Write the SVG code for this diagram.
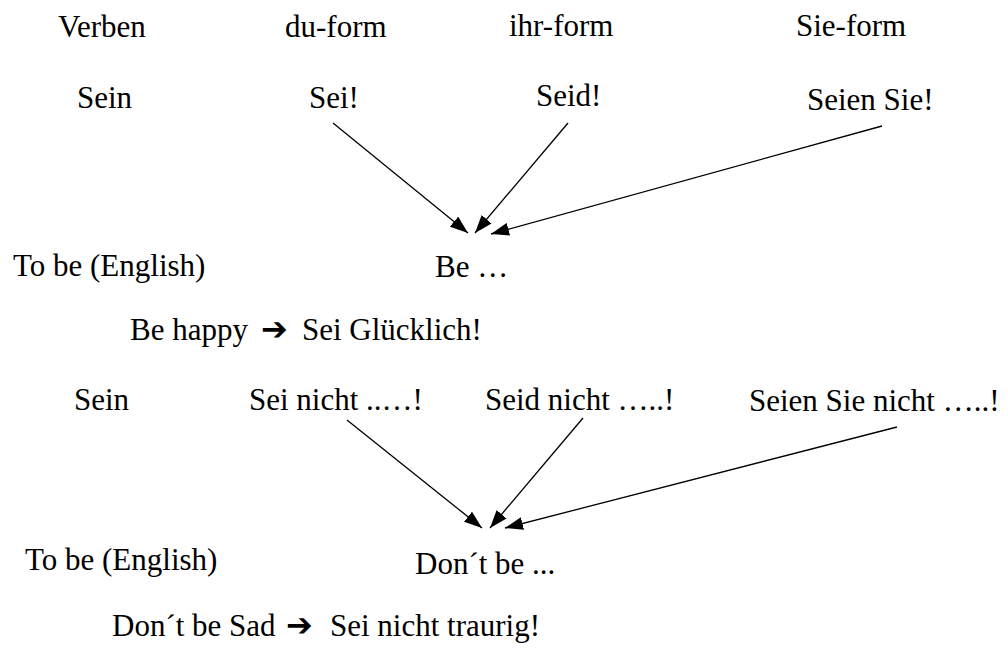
<svg xmlns="http://www.w3.org/2000/svg" width="1008" height="648" viewBox="0 0 1008 648">
<style>
text{font-family:"Liberation Serif","Times New Roman",serif;font-size:31px;fill:#000}
.sym{font-family:"DejaVu Sans",sans-serif;font-weight:bold;font-size:32px}
.c line{stroke:#000;stroke-width:1.3;marker-end:url(#ah)}
</style>
<defs>
<marker id="ah" viewBox="0 0 18 13" refX="18" refY="6.5" markerWidth="18" markerHeight="13" markerUnits="userSpaceOnUse" orient="auto"><path d="M0,0 L18,6.5 L0,13 z" fill="#000"/></marker>
</defs>
<rect width="1008" height="648" fill="#fff"/>
<g id="h-verben"><text x="58" y="37">Verben</text></g>
<g id="h-du"><text x="285" y="37">du-form</text></g>
<g id="h-ihr"><text x="509" y="36">ihr-form</text></g>
<g id="h-sie"><text x="796" y="36">Sie-form</text></g>
<g id="sein1"><text x="77" y="108">Sein</text></g>
<g id="sei1"><text x="309" y="108">Sei!</text></g>
<g id="seid1"><text x="536" y="106">Seid!</text></g>
<g id="seien1"><text x="807" y="110">Seien Sie!</text></g>
<g id="tobe1"><text x="13" y="276">To be (English)</text></g>
<g id="be1"><text x="435" y="277">Be …</text></g>
<g id="ex1"><text x="130" y="340">Be happy<tspan class="sym" x="261">➔</tspan><tspan x="302">Sei Glücklich!</tspan></text></g>
<g id="sein2"><text x="74" y="410">Sein</text></g>
<g id="sei2"><text x="249" y="410">Sei nicht ..…!</text></g>
<g id="seid2"><text x="485" y="410">Seid nicht …..!</text></g>
<g id="seien2"><text x="749" y="411">Seien Sie nicht …..!</text></g>
<g id="tobe2"><text x="25" y="570">To be (English)</text></g>
<g id="be2"><text x="415" y="574">Don´t be ...</text></g>
<g id="ex2"><text x="112" y="636">Don´t be Sad<tspan class="sym" x="286">➔</tspan><tspan x="330">Sei nicht traurig!</tspan></text></g>
<g class="c" id="connectors">
<line x1="333" y1="123" x2="468" y2="233"/>
<line x1="568" y1="123" x2="475" y2="233"/>
<line x1="882" y1="126" x2="491" y2="234"/>
<line x1="347" y1="420" x2="482" y2="528"/>
<line x1="583" y1="418" x2="490" y2="528"/>
<line x1="897" y1="427" x2="505" y2="528"/>
</g>
</svg>
